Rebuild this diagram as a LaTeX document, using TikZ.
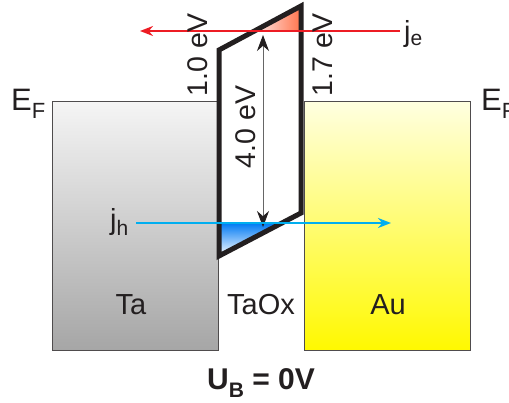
\documentclass[tikz,border=0pt]{standalone}
\usepackage{fontspec}
\setmainfont{Liberation Sans}
\usetikzlibrary{arrows.meta,calc,intersections}
\definecolor{txt}{HTML}{231F20}
\definecolor{ered}{HTML}{ED1C24}
\definecolor{hblue}{HTML}{00AEEF}
\begin{document}
\begin{tikzpicture}[x=1pt,y=-1pt,
  metalbox/.style={draw=txt!80,line width=1.2pt,inner sep=0pt,minimum width=166pt,minimum height=249pt,anchor=north west},
  lbl/.style={text=txt,font=\fontsize{29}{30}\selectfont,inner sep=0pt},
  rlbl/.style={text=txt,font=\fontsize{28.5}{30}\selectfont,inner sep=0pt,rotate=90},
  barrier/.style={draw=txt,line width=5pt,line join=miter},
  current/.style={line width=2.2pt,-{Stealth[length=13pt,width=10pt]}}
]
\useasboundingbox (0,0) rectangle (509,402);
% metal electrodes
\node[metalbox,top color=gray!8,bottom color=gray!70] (ta) at (52,101) {};
\node[metalbox,top color=yellow!12,bottom color=yellow!95!orange!100] (au) at (304,101) {};
% barrier corners
\coordinate (bl) at (219,256);
\coordinate (tl) at (219,50);
\coordinate (tr) at (301,6);
\coordinate (br) at (301,213);
\fill[white] (bl) -- (tl) -- (tr) -- (br) -- cycle;
% red fill (electron region)
\coordinate (redL) at ($(tl)!{19/44}!(tr)$);
\shade[left color=red!8,right color=red!55!orange!70] (redL) -- (tr |- redL) -- (tr) -- cycle;
% blue fill (hole region)
\coordinate (bluR) at ($(bl)!{33/43}!(br)$);
\shade[top color=hblue!70!blue,bottom color=white] (tl |- bluR) -- (bluR) -- (bl) -- cycle;
\draw[barrier] (bl) -- (tl) -- (tr) -- (br) -- cycle;
% barrier height arrow
\coordinate (hT) at (263,35);
\coordinate (hB) at (263,227);
\draw[gray!80!black,line width=0.8pt,{Stealth[length=16pt,width=12pt,color=txt]}-{Stealth[length=16pt,width=12pt,color=txt]}] (hB) -- (hT);
% currents
\coordinate (jeS) at (400,31);
\coordinate (jeE) at (140,31);
\draw[current,ered] (jeS) -- (jeE);
\coordinate (jhS) at (136,223);
\coordinate (jhE) at (391,223);
\draw[current,hblue,line width=2.6pt] (jhS) -- (jhE);
% labels
\node[lbl,anchor=west] (je) at (404,34) {j\textsubscript{\fontsize{21}{22}\selectfont e}};
\node[lbl,anchor=west] (jh) at (110,222) {j\textsubscript{\fontsize{21}{22}\selectfont h}};
\node[lbl,anchor=west,font=\fontsize{31}{32}\selectfont] (efl) at (11,104) {E\raisebox{-8pt}{\fontsize{22}{23}\selectfont F}};
\node[lbl,anchor=west,font=\fontsize{31}{32}\selectfont] (efr) at (481,104) {E\raisebox{-8pt}{\fontsize{22}{23}\selectfont F}};
\node[rlbl] (e10) at (198,55) {1.0 eV};
\node[rlbl] (e17) at (323,55) {1.7 eV};
\node[rlbl] (e40) at (246,127) {4.0 eV};
\node[lbl] (tat) at (131,305) {Ta};
\node[lbl] (taox) at (261,305) {TaOx};
\node[lbl] (aut) at (388,305) {Au};
\node[lbl,font=\fontsize{30}{32}\selectfont\bfseries] (ub) at (261,383) {U\raisebox{-8pt}{\fontsize{21}{22}\selectfont B} = 0V};
\end{tikzpicture}
\end{document}
